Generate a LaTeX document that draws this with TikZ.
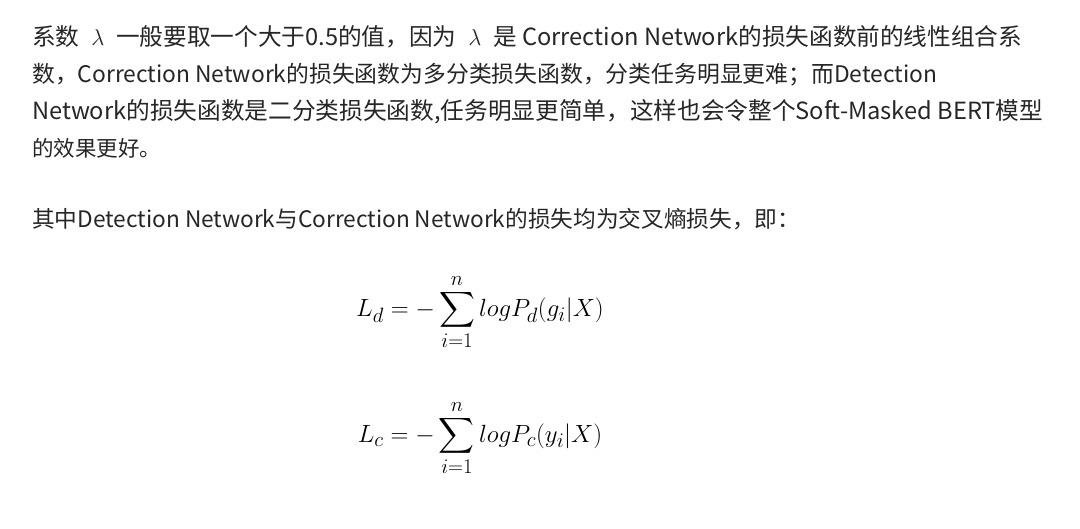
\documentclass[tikz,border=0pt]{standalone}
\usepackage{amsmath}
\usepackage{fontspec}
\newfontfamily\cjk{Noto Sans CJK SC}
\begin{document}
\begin{tikzpicture}[x=1pt,y=1pt,
  txt/.style={anchor=base west,inner sep=0pt,font=\cjk\fontsize{21.5}{24}\selectfont,text=black!85},
  frm/.style={anchor=center,inner sep=0pt,font=\fontsize{29}{33}\selectfont}]
\useasboundingbox (0,0) rectangle (1080,-529);
\fill[white] (0,0) rectangle (1080,-529);
\node[txt] (l1) at (32,-46) {\resizebox{990pt}{!}{系数 \;$\lambda$\; 一般要取一个大于0.5的值，因为 \;$\lambda$\; 是 Correction Network的损失函数前的线性组合系}};
\node[txt] (l2) at (32,-83) {\resizebox{905pt}{!}{数，Correction Network的损失函数为多分类损失函数，分类任务明显更难；而Detection}};
\node[txt] (l3) at (32,-120) {\resizebox{1011pt}{!}{Network的损失函数是二分类损失函数,任务明显更简单，这样也会令整个Soft-Masked BERT模型}};
\node[txt] (l4) at (32,-157) {的效果更好。};
\node[txt] (l5) at (32,-228) {\resizebox{768pt}{!}{其中Detection Network与Correction Network的损失均为交叉熵损失，即：}};
\node[frm] (f1) at (480,-312) {$\displaystyle L_d=-\sum_{i=1}^{n} logP_d(g_i|X)$};
\node[frm] (f2) at (480,-438) {$\displaystyle L_c=-\sum_{i=1}^{n} logP_c(y_i|X)$};
\end{tikzpicture}
\end{document}
